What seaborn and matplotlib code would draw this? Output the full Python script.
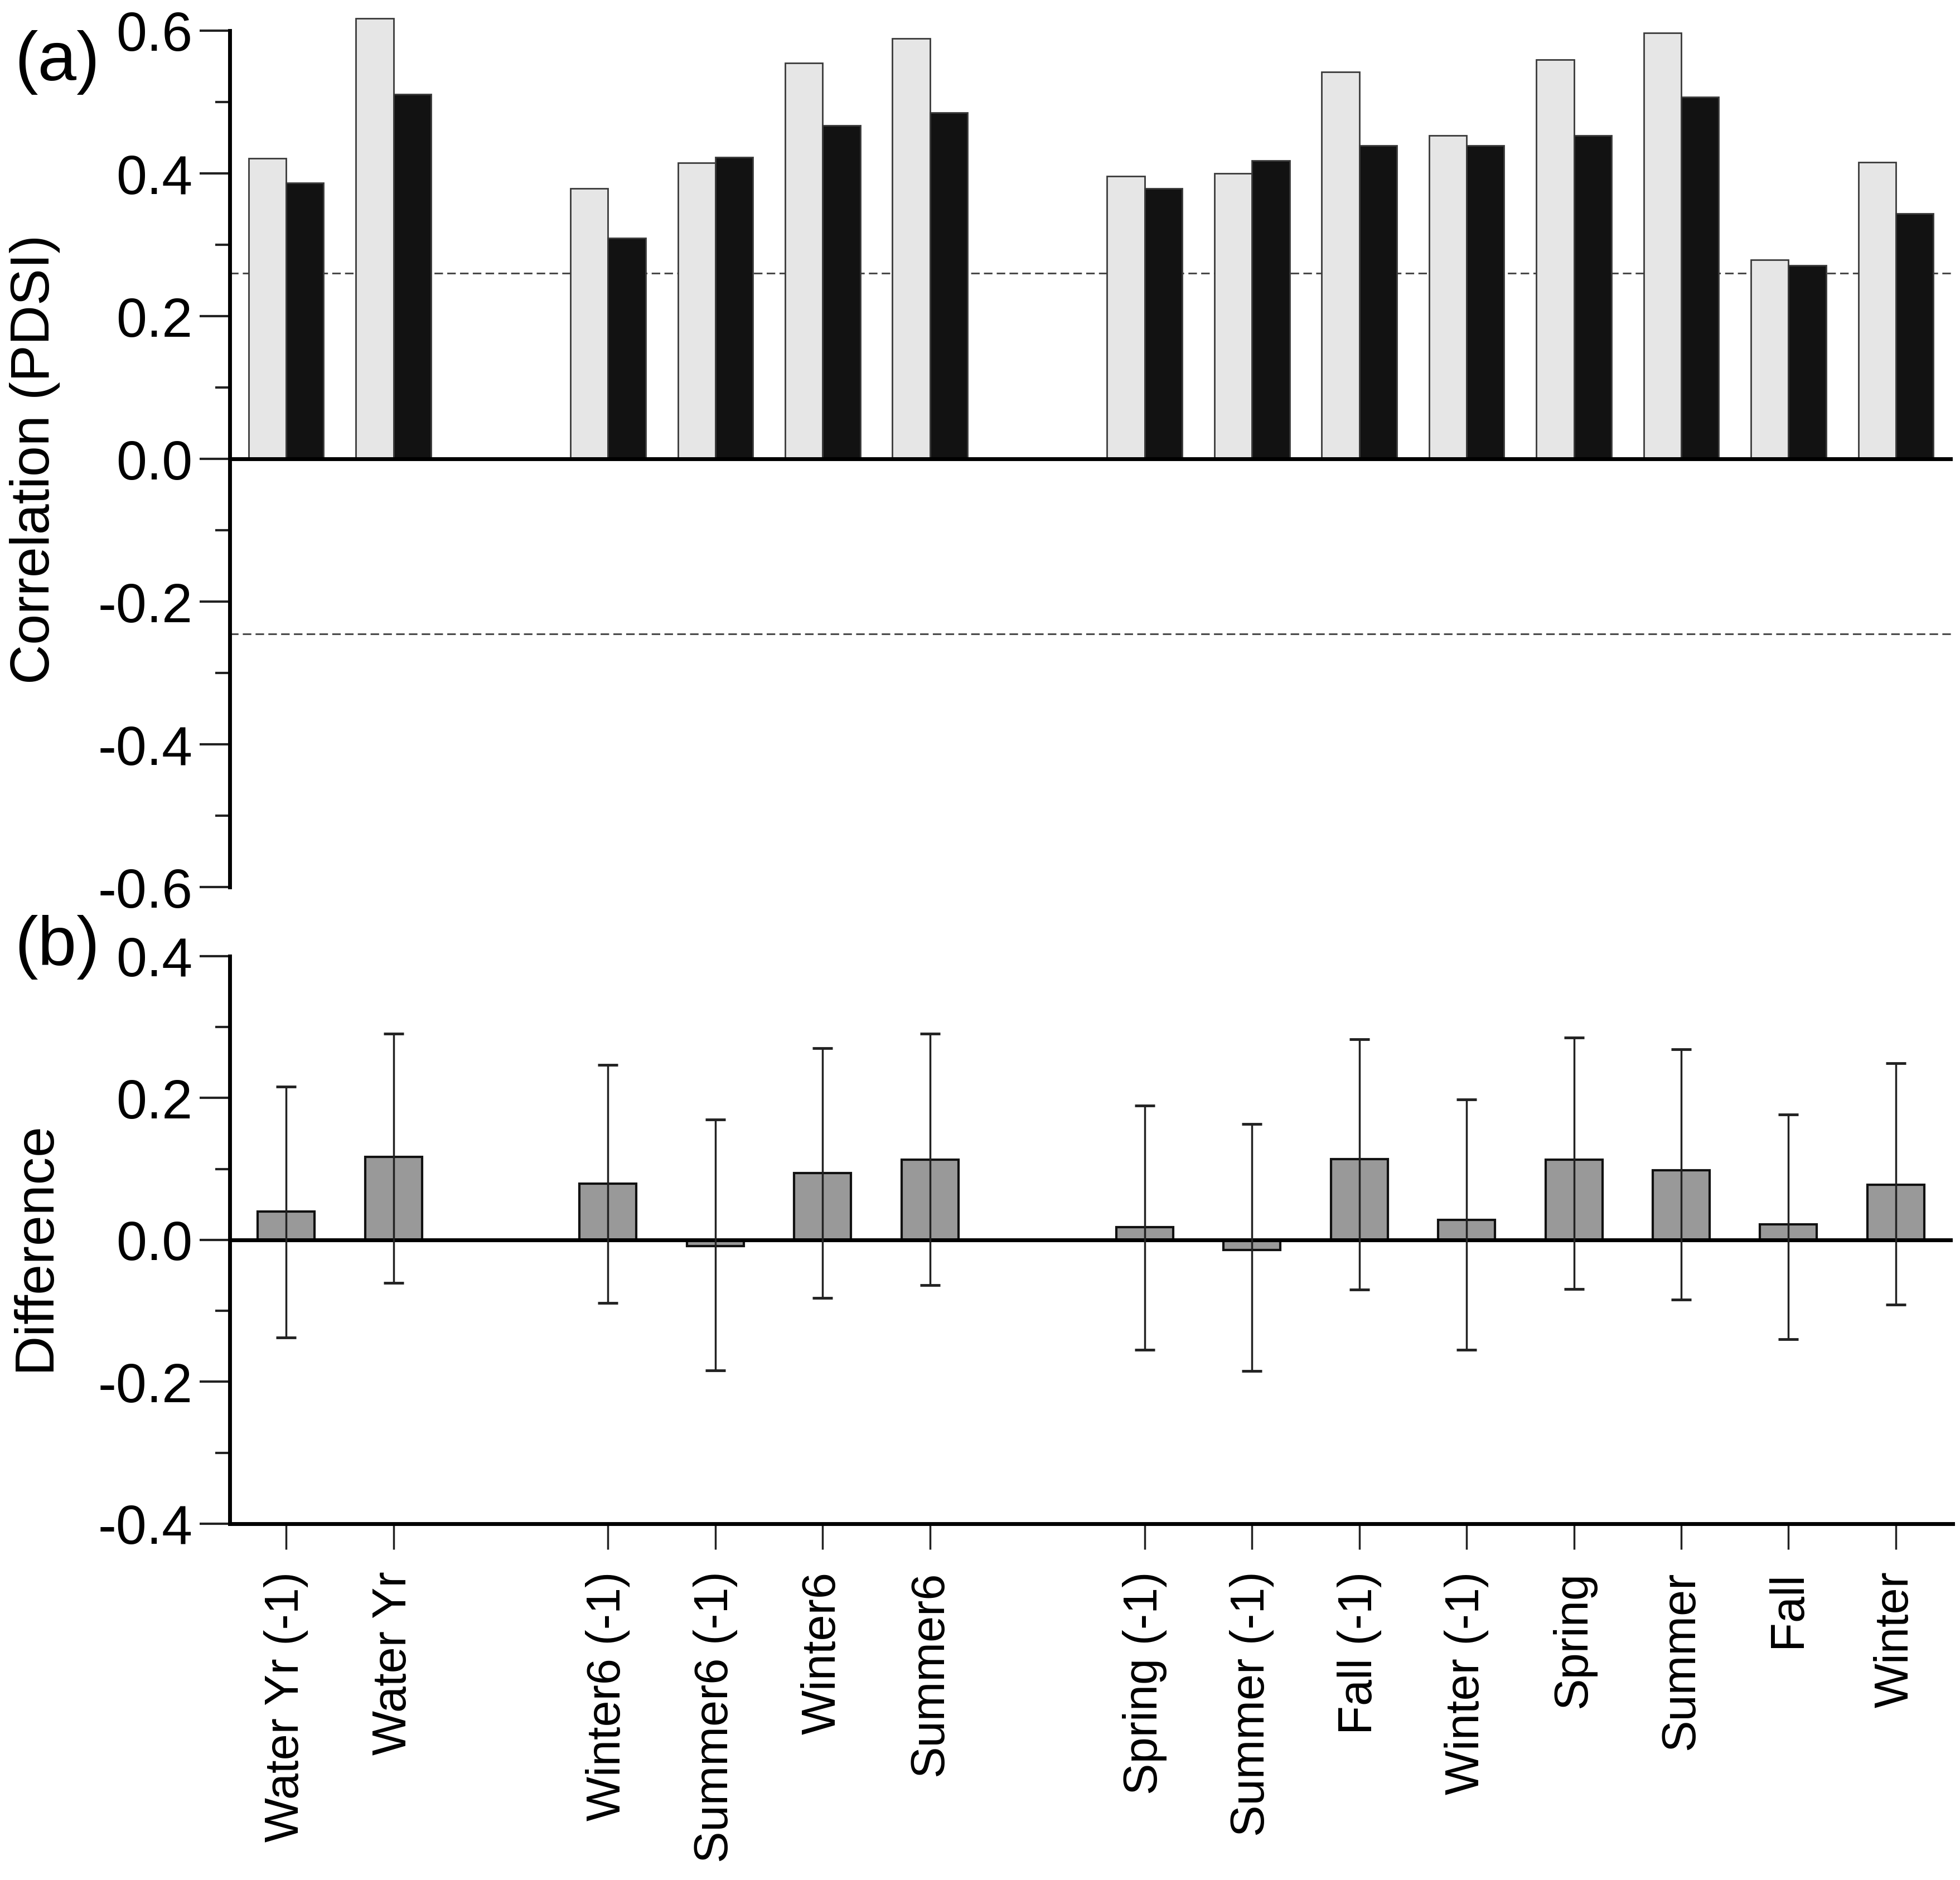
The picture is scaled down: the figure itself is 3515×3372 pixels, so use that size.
"""
Correlation with PDSI by season (a) and the difference between the
two series with its interval (b).
"""

import numpy as np
import pandas as pd
import matplotlib
matplotlib.use("Agg")
import matplotlib.pyplot as plt
from matplotlib.ticker import MultipleLocator, FuncFormatter
import seaborn as sns


# season groups, one empty slot is left between groups
GROUP_1 = ["Water Yr (-1)", "Water Yr"]
GROUP_2 = ["Winter6 (-1)", "Summer6 (-1)", "Winter6", "Summer6"]
GROUP_3 = ["Spring (-1)", "Summer (-1)", "Fall (-1)", "Winter (-1)",
           "Spring", "Summer", "Fall", "Winter"]

SERIES = ["Series A", "Series B"]

# panel (a): correlation with PDSI
CORR_A = [0.421, 0.617, 0.379, 0.415, 0.555, 0.589,
          0.396, 0.400, 0.542, 0.453, 0.559, 0.597, 0.279, 0.416]
CORR_B = [0.387, 0.511, 0.309, 0.423, 0.467, 0.485,
          0.379, 0.418, 0.439, 0.439, 0.453, 0.507, 0.271, 0.344]
SIG_LEVELS = [0.26, -0.245]

# panel (b): difference with lower / upper bounds
DIFF = [0.040, 0.117, 0.079, -0.009, 0.094, 0.113,
        0.018, -0.014, 0.114, 0.028, 0.113, 0.098, 0.022, 0.078]
DIFF_LOW = [-0.138, -0.061, -0.089, -0.184, -0.082, -0.064,
            -0.155, -0.185, -0.070, -0.155, -0.069, -0.084, -0.140, -0.091]
DIFF_HIGH = [0.216, 0.291, 0.247, 0.170, 0.270, 0.291,
             0.189, 0.163, 0.283, 0.198, 0.285, 0.269, 0.177, 0.249]


def category_positions(groups):
    labels, pos = [], []
    x = 0
    for g in groups:
        for name in g:
            labels.append(name)
            pos.append(x)
            x += 1
        x += 1
    return labels, pos


labels, pos = category_positions([GROUP_1, GROUP_2, GROUP_3])

df_corr = pd.DataFrame({
    "pos": pos * 2,
    "corr": CORR_A + CORR_B,
    "series": [SERIES[0]] * len(pos) + [SERIES[1]] * len(pos),
})
df_diff = pd.DataFrame({"pos": pos, "diff": DIFF,
                        "low": DIFF_LOW, "high": DIFF_HIGH})

sns.set_theme(style="ticks")
plt.rcParams["font.family"] = ["Liberation Sans", "DejaVu Sans"]
plt.rcParams["axes.unicode_minus"] = False
for key in ["text.color", "axes.labelcolor", "xtick.color", "ytick.color",
            "xtick.labelcolor", "ytick.labelcolor"]:
    plt.rcParams[key] = "black"

fig = plt.figure(figsize=(35.16, 33.73), dpi=100)
ax1 = fig.add_axes([0.1172, 0.528, 0.8788, 0.4554])
ax2 = fig.add_axes([0.1172, 0.1895, 0.8788, 0.3018])

XLIM = (-0.525, 15.53)
fmt = FuncFormatter(lambda v, _: f"{v:.1f}".replace("-0.0", "0.0"))

# ---- (a) correlations
sns.barplot(data=df_corr, x="pos", y="corr", hue="series", hue_order=SERIES,
            native_scale=True, width=0.7, palette=["#e6e6e6", "#121212"],
            saturation=1, edgecolor="#3a3a3a", linewidth=2, errorbar=None,
            legend=False, ax=ax1)
for p in ax1.patches:
    p.set_clip_on(False)
ax1.axhline(0, color="black", lw=5, zorder=3)
for lvl in SIG_LEVELS:
    ax1.axhline(lvl, color="#4a4a4a", lw=2.2, ls=(0, (5, 2.5)), zorder=0.5)
ax1.set_xlim(*XLIM)
ax1.set_ylim(-0.6, 0.6)
ax1.yaxis.set_major_locator(MultipleLocator(0.2))
ax1.yaxis.set_minor_locator(MultipleLocator(0.1))
ax1.yaxis.set_major_formatter(fmt)
ax1.tick_params(axis="x", bottom=False, labelbottom=False)
ax1.set_xlabel("")
ax1.set_ylabel("Correlation (PDSI)", fontsize=71, va="center")
ax1.yaxis.set_label_coords(-0.113, 0.5)
for s in ["top", "right", "bottom"]:
    ax1.spines[s].set_visible(False)

# ---- (b) differences
sns.barplot(data=df_diff, x="pos", y="diff", native_scale=True, width=0.53,
            color="#999999", saturation=1, edgecolor="#111111", linewidth=3,
            errorbar=None, ax=ax2)
ax2.errorbar(df_diff["pos"], df_diff["diff"],
             yerr=[df_diff["diff"] - df_diff["low"],
                   df_diff["high"] - df_diff["diff"]],
             fmt="none", ecolor="#222222", elinewidth=2.5,
             capsize=13, capthick=3.5, zorder=4)
ax2.axhline(0, color="black", lw=5, zorder=3)
ax2.set_xlim(*XLIM)
ax2.set_ylim(-0.4, 0.4)
ax2.yaxis.set_major_locator(MultipleLocator(0.2))
ax2.yaxis.set_minor_locator(MultipleLocator(0.1))
ax2.yaxis.set_major_formatter(fmt)
ax2.set_xticks(pos, labels, rotation=90)
ax2.set_xlabel("")
ax2.set_ylabel("Difference", fontsize=71, va="center")
ax2.yaxis.set_label_coords(-0.113, 0.49)
for s in ["top", "right"]:
    ax2.spines[s].set_visible(False)

for ax in (ax1, ax2):
    for s in ["left", "bottom"]:
        ax.spines[s].set_linewidth(5)
        ax.spines[s].set_color("black")
    ax.tick_params(axis="y", which="major", length=39, width=3,
                   labelsize=71, pad=9, color="#222222")
    ax.tick_params(axis="y", which="minor", length=19, width=3,
                   color="#222222")
ax2.tick_params(axis="x", which="major", length=33, width=2.5,
                labelsize=61, pad=28, color="#222222")

fig.text(0.0075, 0.9668, "(a)", fontsize=90, ha="left", va="center")
fig.text(0.0075, 0.4963, "(b)", fontsize=90, ha="left", va="center")

plt.savefig("out.png", dpi=100)
plt.close()
print("Saved: out.png")
